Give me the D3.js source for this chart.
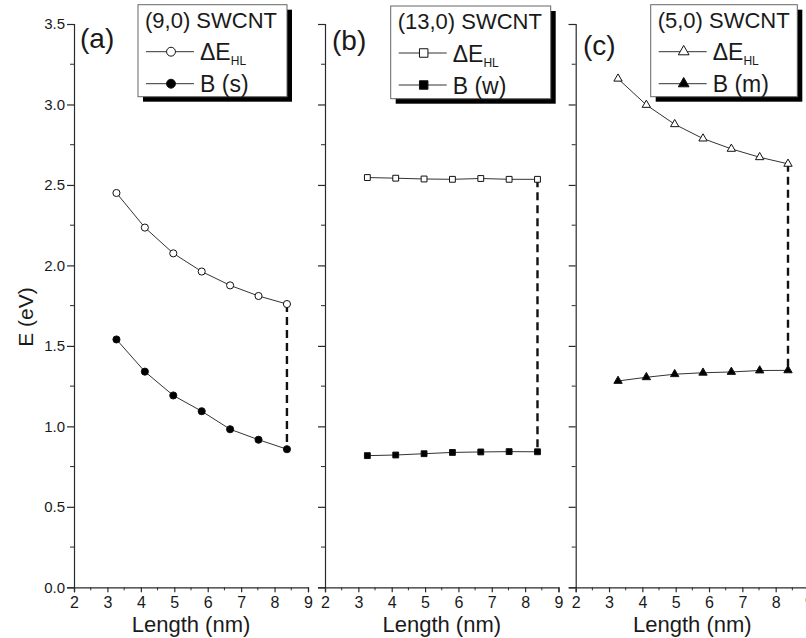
<!DOCTYPE html>
<html>
<head>
<meta charset="utf-8">
<script src="https://cdn.jsdelivr.net/npm/d3@7/dist/d3.min.js"></script>
<style>
  html, body { margin: 0; padding: 0; background: #fff; }
  svg { display: block; font-family: "Liberation Sans", Arial, sans-serif; }
</style>
</head>
<body>
<svg id="chart" width="806" height="638"></svg>
<script>
// ---------------- data ----------------
const lengths = [3.27, 4.12, 4.97, 5.82, 6.67, 7.52, 8.37];
const dE_9_0  = [2.45, 2.235, 2.075, 1.962, 1.876, 1.81, 1.76];
const B_9_0   = [1.54, 1.34, 1.192, 1.094, 0.982, 0.917, 0.858];
const dE_13_0 = [2.546, 2.542, 2.537, 2.535, 2.54, 2.535, 2.535];
const B_13_0  = [0.818, 0.822, 0.83, 0.838, 0.841, 0.843, 0.842];
const dE_5_0  = [3.16, 2.997, 2.877, 2.788, 2.724, 2.672, 2.631];
const B_5_0   = [1.282, 1.305, 1.324, 1.333, 1.338, 1.347, 1.348];

const panelLabels = ["(a)", "(b)", "(c)"];
const legendTitles = ["(9,0) SWCNT", "(13,0) SWCNT", "(5,0) SWCNT"];
const legendBLabels = ["B (s)", "B (w)", "B (m)"];
const markerShapes = ["circle", "square", "triangle"];
const xTicks = [2, 3, 4, 5, 6, 7, 8, 9];
const yTicks = [0.0, 0.5, 1.0, 1.5, 2.0, 2.5, 3.0, 3.5];
const xDomain = [2, 9];
const yDomain = [0, 3.5];
const xTitle = "Length (nm)";
const yTitle = "E (eV)";

const seriesTop = [dE_9_0, dE_13_0, dE_5_0];
const seriesBot = [B_9_0, B_13_0, B_5_0];

// ---------------- layout ----------------
const panelX = [[74, 308], [325, 558.5], [575.7, 809]];
const yRange = [587.3, 24];
const legendBoxes = [
  {x: 138, y: 4.7, w: 149, h: 92},
  {x: 390.7, y: 6, w: 160, h: 92.7},
  {x: 650.7, y: 4.7, w: 146.6, h: 92}
];
const labelPos = [{x: 80, y: 47.5}, {x: 332, y: 50}, {x: 583, y: 55}];

const svg = d3.select("#chart");
const y = d3.scaleLinear().domain(yDomain).range(yRange);
const axisColor = "#2a2a2a";
const textColor = "#1a1a1a";

function symbolPath(shape, size) {
  const t = shape === "circle" ? d3.symbolCircle : shape === "square" ? d3.symbolSquare : d3.symbolTriangle;
  return d3.symbol().type(t).size(size)();
}
const dataSize = {circle: 40, square: 34, triangle: 30};
const legSize = {circle: 62, square: 72, triangle: 50};

panelX.forEach((rng, i) => {
  const x = d3.scaleLinear().domain(xDomain).range(rng);
  const g = svg.append("g");

  // x axis: major ticks
  const xAxisG = g.append("g").attr("transform", `translate(0,${yRange[0]})`);
  xAxisG.call(d3.axisBottom(x).tickValues(xTicks).tickFormat(d3.format("d")).tickSize(5).tickPadding(4));
  const minorX = d3.range(2.5, 9, 1);
  xAxisG.selectAll(".minor").data(minorX).enter().append("line")
    .attr("x1", d => x(d)).attr("x2", d => x(d)).attr("y1", 0).attr("y2", 3)
    .attr("stroke", axisColor).attr("stroke-width", 1);
  xAxisG.select(".domain").attr("stroke", axisColor).attr("stroke-width", 1.2);
  xAxisG.selectAll(".tick line").attr("stroke", axisColor).attr("stroke-width", 1.2);
  xAxisG.selectAll(".tick text").attr("font-size", 16).attr("fill", textColor)
    .attr("font-family", "Liberation Sans, Arial, sans-serif");

  // y axis
  const yAxisG = g.append("g").attr("transform", `translate(${rng[0]},0)`);
  yAxisG.call(d3.axisLeft(y).tickValues(yTicks).tickFormat(i === 0 ? d3.format(".1f") : () => "").tickSize(7).tickPadding(2));
  const minorY = d3.range(0.25, 3.5, 0.5);
  yAxisG.selectAll(".minor").data(minorY).enter().append("line")
    .attr("x1", 0).attr("x2", -4).attr("y1", d => y(d)).attr("y2", d => y(d))
    .attr("stroke", axisColor).attr("stroke-width", 1);
  yAxisG.select(".domain").attr("stroke", axisColor).attr("stroke-width", 1.2);
  yAxisG.selectAll(".tick line").attr("stroke", axisColor).attr("stroke-width", 1.2);
  yAxisG.selectAll(".tick text").attr("font-size", 15).attr("fill", textColor)
    .attr("font-family", "Liberation Sans, Arial, sans-serif");

  // x title
  g.append("text").attr("x", (rng[0] + rng[1]) / 2).attr("y", 632)
    .attr("text-anchor", "middle").attr("font-size", 22).attr("fill", textColor).text(xTitle);

  // panel label
  g.append("text").attr("x", labelPos[i].x).attr("y", labelPos[i].y)
    .attr("font-size", 28).attr("fill", textColor).text(panelLabels[i]);

  // dashed connector
  const last = lengths.length - 1;
  g.append("line")
    .attr("x1", x(lengths[last])).attr("x2", x(lengths[last]))
    .attr("y1", y(seriesTop[i][last])).attr("y2", y(seriesBot[i][last]))
    .attr("stroke", "#111").attr("stroke-width", 2.4).attr("stroke-dasharray", "8,5");

  // series lines & markers
  const line = d3.line().x(d => x(d[0])).y(d => y(d[1]));
  [[seriesTop[i], "#fff"], [seriesBot[i], "#000"]].forEach(([vals, fill]) => {
    const pts = lengths.map((L, k) => [L, vals[k]]);
    g.append("path").datum(pts).attr("d", line).attr("fill", "none")
      .attr("stroke", "#333").attr("stroke-width", 1);
    g.selectAll(null).data(pts).enter().append("path")
      .attr("d", symbolPath(markerShapes[i], dataSize[markerShapes[i]]))
      .attr("transform", d => `translate(${x(d[0])},${y(d[1])})`)
      .attr("fill", fill).attr("stroke", "#111").attr("stroke-width", 1);
  });

  // legend
  const lb = legendBoxes[i];
  const lg = svg.append("g");
  lg.append("rect").attr("x", lb.x + 5).attr("y", lb.y + 5).attr("width", lb.w).attr("height", lb.h).attr("fill", "#000");
  lg.append("rect").attr("x", lb.x).attr("y", lb.y).attr("width", lb.w).attr("height", lb.h)
    .attr("fill", "#fff").attr("stroke", "#666").attr("stroke-width", 1);
  lg.append("text").attr("x", lb.x + 7).attr("y", lb.y + 23).attr("font-size", 22).attr("fill", textColor).text(legendTitles[i]);
  const rows = [{fill: "#fff", dy: 47, label: null}, {fill: "#000", dy: 79, label: legendBLabels[i]}];
  rows.forEach(r => {
    const ly = lb.y + r.dy;
    lg.append("line").attr("x1", lb.x + 8).attr("x2", lb.x + 56).attr("y1", ly).attr("y2", ly)
      .attr("stroke", "#333").attr("stroke-width", 1);
    lg.append("path").attr("d", symbolPath(markerShapes[i], legSize[markerShapes[i]]))
      .attr("transform", `translate(${lb.x + 33},${ly})`)
      .attr("fill", r.fill).attr("stroke", "#111").attr("stroke-width", 1);
    if (r.label) {
      lg.append("text").attr("x", lb.x + 62).attr("y", ly + 8.5).attr("font-size", 23).attr("fill", textColor).text(r.label);
    } else {
      const t = lg.append("text").attr("x", lb.x + 62).attr("y", ly + 8.5).attr("font-size", 23).attr("fill", textColor);
      t.append("tspan").text("ΔE");
      t.append("tspan").attr("font-size", 12).attr("dy", 5).text("HL");
    }
  });
});

// y title
svg.append("text").attr("transform", "translate(33,317) rotate(-90)")
  .attr("text-anchor", "middle").attr("font-size", 21).attr("fill", textColor).text(yTitle);
</script>
</body>
</html>
